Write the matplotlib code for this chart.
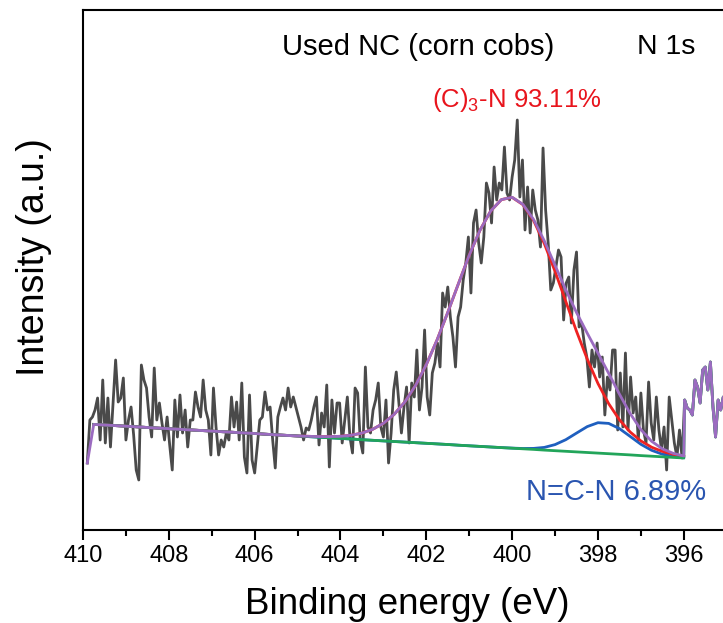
import numpy as np
import matplotlib.pyplot as plt

plt.rcParams['font.family'] = ['Liberation Sans', 'DejaVu Sans']
plt.rcParams['mathtext.default'] = 'regular'

# N 1s raw spectrum, 409.9 eV downwards in 0.06 eV steps (arb. units)
raw_start, raw_step = 409.9, 0.06
raw_counts = [
    67, 110, 113, 120, 132, 90, 150, 87, 132, 83, 127, 170, 128, 132, 152, 90, 110, 123, 95, 60,
    50, 165, 150, 142, 113, 93, 162, 110, 127, 107, 90, 113, 85, 60, 130, 93, 135, 97, 120, 83,
    110, 110, 138, 123, 113, 150, 120, 110, 75, 142, 103, 75, 90, 83, 97, 90, 133, 103, 128, 90,
    147, 73, 57, 135, 70, 57, 83, 110, 113, 138, 120, 123, 90, 62, 113, 123, 132, 120, 142, 123,
    133, 123, 113, 103, 90, 102, 100, 110, 123, 133, 85, 117, 103, 145, 63, 130, 97, 127, 127, 87,
    110, 133, 93, 77, 142, 137, 90, 77, 163, 103, 97, 120, 130, 147, 103, 93, 130, 67, 97, 140,
    158, 127, 97, 123, 143, 87, 147, 133, 180, 120, 143, 200, 133, 115, 157, 167, 187, 163, 237, 223,
    243, 213, 193, 163, 213, 223, 250, 267, 293, 237, 307, 320, 287, 267, 293, 347, 337, 307, 363, 330,
    347, 340, 383, 337, 330, 353, 370, 410, 333, 370, 300, 343, 297, 340, 320, 310, 283, 382, 320, 287,
    240, 247, 263, 280, 273, 210, 247, 253, 207, 260, 278, 203, 207, 187, 173, 143, 180, 163, 187, 153,
    173, 115, 153, 140, 180, 180, 100, 157, 103, 177, 100, 153, 117, 133, 90, 137, 100, 87, 148, 107,
    90, 133, 100, 80, 103, 60, 133, 110, 87, 73, 100, 72, 130, 122, 120, 115, 150, 143, 127, 160,
    163, 140, 168, 123, 93, 130, 120, 133, 117,
]
fit_end = 231  # last channel inside the fitting window (396.04 eV)

# fitted components on a 0.25 eV grid, 409.75 -> 396.0 eV
background = [
    105.6, 105.0, 104.4, 103.8, 103.2, 102.5, 101.9, 101.3, 100.7, 100.1,
    99.5, 98.9, 98.3, 97.7, 97.1, 96.5, 95.8, 95.2, 94.6, 94.0,
    93.4, 92.8, 92.2, 91.6, 91.0, 90.3, 89.7, 89.1, 88.5, 87.9,
    87.3, 86.7, 86.1, 85.5, 84.8, 84.2, 83.6, 83.0, 82.4, 81.8,
    81.2, 80.6, 79.9, 79.3, 78.7, 78.1, 77.5, 76.9, 76.3, 75.7,
    75.1, 74.4, 73.8, 73.2, 72.6, 72.0,
]
peak_c3n = [0.0] * 20 + [
    0.3, 0.6, 1.2, 2.1, 3.8, 6.6, 11.0, 17.6, 27.1, 40.2,
    57.3, 78.7, 103.9, 132.1, 161.7, 190.6, 216.1, 236.0, 248.0, 250.8,
    244.2, 228.9, 206.5, 179.3, 149.9, 120.6, 93.4, 69.6, 50.0, 34.5,
    22.9, 14.7, 9.0, 5.4, 3.1, 1.7,
]
peak_ncn = [0.0] * 39 + [
    0.1, 0.3, 1.0, 2.7, 6.1, 11.6, 18.8, 25.9, 30.4, 30.3,
    25.7, 18.5, 11.3, 5.9, 2.6, 1.0, 0.3,
]

energy = raw_start - raw_step * np.arange(len(raw_counts))
counts = np.array(raw_counts, dtype=float)
fit_energy = np.linspace(409.75, 396.0, len(background))
bg = np.array(background)
c3n_line = bg + np.array(peak_c3n)
ncn_line = bg + np.array(peak_ncn)
envelope = bg + np.array(peak_c3n) + np.array(peak_ncn)

# outside the fitting window the envelope/background follow the raw data
tail_e = energy[fit_end + 1:]
tail_c = counts[fit_end + 1:]
env_x = np.concatenate([[energy[0]], fit_energy, tail_e])
env_y = np.concatenate([[counts[0]], envelope, tail_c])
bg_x = np.concatenate([fit_energy, tail_e])
bg_y = np.concatenate([bg, tail_c])

fig = plt.figure(figsize=(7.23, 6.23), dpi=100)
ax = fig.add_axes([83 / 723, 93 / 623, 648 / 723, 520 / 623])

lw = 2.0
ax.plot(energy, counts, color='#4a4a4a', lw=lw, zorder=1)
ax.plot(fit_energy, ncn_line, color='#1f5fbf', lw=lw, zorder=2)
ax.plot(fit_energy, c3n_line, color='#ee2222', lw=lw, zorder=3)
ax.plot(bg_x, bg_y, color='#22a55a', lw=lw, zorder=4)
ax.plot(env_x, env_y, color='#9b6bc0', lw=lw, zorder=5)

ax.set_xlim(410, 394.9)
ax.set_ylim(0, 520)
ax.set_xticks(np.arange(410, 395, -2))
ax.set_xticks(np.arange(409, 395, -2), minor=True)
ax.set_yticks([])
ax.tick_params(axis='x', which='major', direction='out', length=7, width=1.5,
               labelsize=17, pad=4)
ax.tick_params(axis='x', which='minor', direction='out', length=4, width=1.5)
for s in ax.spines.values():
    s.set_linewidth(1.5)

ax.set_xlabel('Binding energy (eV)', fontsize=26.5, labelpad=14)
ax.set_ylabel('Intensity (a.u.)', fontsize=27, labelpad=22)
ax.yaxis.label.set_y(0.525)

ax.text(402.2, 483, 'Used NC (corn cobs)', fontsize=21, ha='center', va='center')
ax.text(396.4, 483, 'N 1s', fontsize=20.5, ha='center', va='center')
ax.text(399.9, 430, r'(C)$_{3}$-N 93.11%', fontsize=18.5, color='#e8141c',
        ha='center', va='center')
ax.text(397.58, 38, 'N=C-N 6.89%', fontsize=21, color='#2a55b0',
        ha='center', va='center')

fig.savefig('out.png', dpi=100)
